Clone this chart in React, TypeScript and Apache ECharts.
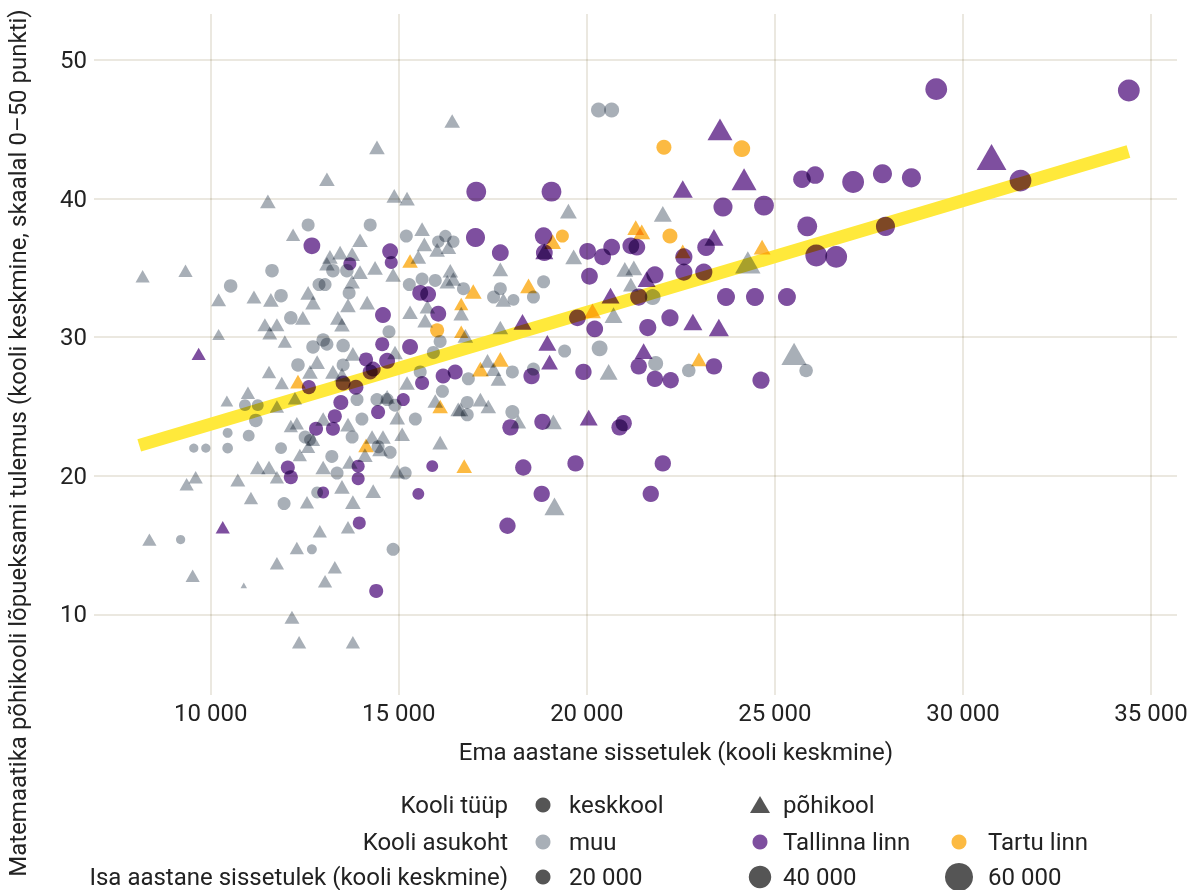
import React, { useEffect, useRef } from "react";
import * as echarts from "echarts";

// x: ema aastane sissetulek, y: matemaatika tulemus, f: isa aastane sissetulek (tuh)
const muuKeskkool: number[][] = [
  [20310, 46.4, 20], [20660, 46.4, 20], [11630, 34.8, 17], [10530, 33.7, 17], [11870, 33.0, 17],
  [12130, 31.4, 17], [12320, 28.0, 17], [10910, 25.1, 14], [11250, 25.1, 14], [11200, 24.0, 17],
  [10450, 23.1, 11], [11010, 22.9, 14], [11870, 22.0, 14], [9550, 22.0, 10], [9870, 22.0, 10],
  [10450, 22.0, 12], [11950, 18.0, 16], [9200, 15.4, 10], [12590, 38.1, 16], [14240, 38.1, 16],
  [15200, 37.3, 16], [16050, 36.9, 15], [16240, 37.3, 15], [16450, 36.9, 15], [13250, 34.8, 17],
  [13620, 34.8, 17], [12880, 33.8, 16], [13040, 33.8, 16], [13680, 33.2, 16], [15280, 33.8, 16],
  [15620, 34.2, 16], [15970, 34.1, 16], [14740, 30.4, 16], [12720, 29.3, 17], [12990, 29.8, 17],
  [13520, 29.4, 17], [13090, 29.5, 16], [13520, 28.0, 16], [13890, 25.5, 16], [14420, 25.5, 16],
  [14690, 25.5, 16], [14900, 25.1, 16], [15440, 24.1, 16], [14020, 24.1, 16], [13760, 22.8, 16],
  [13220, 21.4, 16], [13360, 20.2, 16], [12510, 22.8, 16], [12640, 22.6, 14], [14450, 22.1, 16],
  [14770, 21.7, 16], [15170, 20.2, 16], [16160, 26.1, 16], [15570, 27.5, 16], [15920, 28.9, 16],
  [16100, 29.7, 16], [12830, 18.8, 14], [12690, 14.7, 11], [14850, 14.7, 16], [16720, 33.5, 16],
  [17700, 33.5, 16], [17520, 32.9, 16], [18050, 32.7, 14], [18580, 32.9, 16], [18850, 34.0, 16],
  [19410, 29.0, 16], [20340, 29.2, 22], [16850, 27.0, 16], [18020, 27.5, 16], [18580, 27.7, 16],
  [18020, 24.6, 18], [16820, 25.3, 16], [16820, 24.4, 16], [21750, 32.9, 22], [21830, 28.1, 20],
  [22710, 27.6, 17], [25830, 27.6, 17],
];

const muuPohikool: number[][] = [
  [8190, 34.4, 14], [9330, 34.8, 14], [8370, 15.4, 14], [9520, 12.8, 14], [9360, 19.4, 14],
  [9600, 19.9, 14], [10720, 19.7, 15], [11070, 18.4, 14], [10880, 12.1, 6], [11250, 20.6, 16],
  [11550, 20.6, 16], [11760, 19.9, 14], [11760, 13.7, 14], [12290, 14.8, 14], [12160, 9.8, 15],
  [12350, 8.0, 14], [13780, 8.0, 14], [13040, 12.4, 14], [11520, 39.8, 16], [12190, 37.4, 14],
  [10210, 32.7, 15], [11150, 32.9, 15], [11600, 32.7, 16], [11440, 30.9, 15], [11760, 30.9, 15],
  [11570, 30.3, 15], [10210, 30.2, 12], [11970, 29.7, 14], [11550, 27.5, 14], [11890, 26.7, 14],
  [10430, 25.4, 12], [10990, 26.0, 14], [11760, 25.0, 14], [12240, 25.6, 14], [12130, 23.6, 14],
  [16420, 45.6, 16], [14420, 43.7, 16], [13090, 41.4, 16], [14880, 40.2, 16], [15220, 40.0, 16],
  [15620, 37.8, 16], [13970, 37.0, 16], [15680, 36.7, 16], [16020, 36.3, 16], [16320, 36.5, 16],
  [15520, 35.8, 16], [13170, 35.8, 16], [13440, 36.1, 16], [13760, 36.0, 16], [13090, 35.3, 16],
  [13970, 34.7, 16], [14370, 35.0, 16], [14850, 34.5, 16], [13760, 34.0, 16], [12590, 33.2, 16],
  [12720, 32.5, 16], [14160, 32.5, 16], [13650, 32.3, 16], [15760, 32.2, 16], [15300, 31.8, 16],
  [12450, 31.4, 16], [13380, 31.4, 16], [13490, 30.9, 16], [15700, 31.2, 16], [16290, 34.0, 16],
  [12640, 27.5, 16], [12830, 28.2, 16], [13250, 27.5, 16], [13490, 27.3, 16], [13780, 28.8, 16],
  [14900, 28.9, 16], [15220, 26.7, 16], [14690, 25.7, 16], [14960, 24.2, 16], [15090, 23.0, 16],
  [14580, 22.8, 16], [14290, 22.8, 16], [14500, 21.9, 16], [14100, 21.5, 16], [13650, 23.7, 16],
  [12990, 24.1, 16], [12290, 23.8, 14], [12720, 22.6, 14], [12590, 22.1, 14], [12370, 21.5, 14],
  [12990, 20.6, 16], [13700, 21.0, 16], [14960, 20.3, 16], [16100, 22.4, 16], [16580, 24.8, 16],
  [15970, 25.4, 16], [13780, 18.1, 16], [14320, 18.9, 16], [13490, 19.2, 16], [12560, 18.1, 14],
  [13650, 16.3, 14], [12900, 16.0, 14], [13300, 13.4, 14], [19510, 39.1, 18], [19650, 35.8, 18],
  [21010, 34.9, 18], [21250, 35.0, 18], [16370, 34.8, 16], [16450, 34.2, 16], [17700, 34.9, 16],
  [17780, 32.7, 16], [16660, 31.7, 16], [17700, 30.7, 16], [16770, 30.1, 16], [20710, 31.6, 20],
  [20580, 27.5, 20], [17360, 28.3, 16], [17520, 27.7, 16], [17650, 27.0, 16], [19110, 23.9, 18],
  [18180, 23.9, 16], [17170, 25.5, 16], [17380, 25.0, 16], [16640, 24.8, 16], [19140, 17.8, 24],
  [22020, 38.9, 20], [24280, 35.4, 36], [25510, 28.8, 36], [21170, 33.8, 16],
];

const tallinnKeskkool: number[][] = [
  [34410, 47.8, 38], [29290, 47.9, 38], [31530, 41.3, 38], [27080, 41.2, 38], [27860, 41.8, 30],
  [28630, 41.5, 30], [25720, 41.4, 26], [26070, 41.7, 26], [27940, 38.0, 30], [25860, 38.0, 32],
  [26100, 35.9, 38], [26630, 35.8, 38], [25320, 32.9, 27], [24470, 32.9, 27], [23700, 32.9, 27],
  [24710, 39.5, 32], [23620, 39.4, 30], [23170, 36.5, 26], [22580, 35.8, 25], [22580, 34.7, 25],
  [23110, 34.7, 25], [21810, 34.5, 25], [21380, 32.9, 25], [21170, 36.6, 24], [21330, 36.5, 24],
  [22210, 31.4, 25], [21620, 30.7, 25], [21380, 27.9, 23], [21810, 27.0, 23], [22230, 26.9, 23],
  [23380, 27.9, 23], [24630, 26.9, 25], [20980, 23.8, 23], [20870, 23.5, 23], [22020, 20.9, 23],
  [21700, 18.7, 23], [18310, 20.6, 23], [19700, 20.9, 23], [18800, 18.7, 23], [17890, 16.4, 23],
  [17040, 37.2, 30], [17700, 36.1, 24], [18850, 37.3, 26], [18870, 36.1, 24], [20020, 36.2, 24],
  [20420, 35.8, 24], [20660, 36.5, 24], [20070, 34.4, 24], [19750, 31.4, 24], [20210, 30.6, 24],
  [19910, 27.5, 23], [18530, 27.2, 23], [18820, 23.9, 23], [17970, 23.5, 23], [19060, 40.5, 32],
  [17060, 40.5, 32], [14400, 11.7, 18], [12050, 20.6, 18], [12130, 19.9, 18], [13920, 20.7, 16],
  [13920, 19.8, 16], [12990, 18.8, 14], [15890, 20.7, 14], [15520, 18.7, 14], [13950, 16.6, 16],
  [13460, 25.3, 20], [14450, 24.6, 18], [15120, 25.5, 16], [13300, 24.3, 18], [12800, 23.4, 18],
  [13250, 23.4, 18], [12610, 26.4, 18], [13520, 26.7, 20], [13860, 26.4, 20], [14240, 27.5, 20],
  [14320, 27.7, 20], [14130, 28.4, 18], [14690, 28.3, 22], [14560, 29.5, 18], [15300, 29.3, 22],
  [15620, 26.7, 18], [16180, 27.2, 20], [16500, 27.5, 20], [12690, 36.6, 24], [14770, 36.2, 22],
  [14800, 35.4, 16], [13700, 35.3, 16], [15570, 33.2, 22], [15780, 33.1, 22], [14580, 31.6, 22],
  [16050, 31.7, 22],
];

const tallinnPohikool: number[][] = [
  [30760, 43.0, 48], [23540, 45.0, 35], [24180, 41.4, 35], [22550, 40.7, 24], [23380, 37.2, 22],
  [21590, 34.2, 20], [22820, 31.1, 22], [23510, 30.7, 24], [21510, 29.0, 20], [20630, 33.0, 20],
  [18870, 36.2, 20], [18290, 31.1, 20], [18950, 29.6, 20], [19010, 28.2, 18], [20050, 24.2, 20],
  [9680, 28.8, 14], [10320, 16.3, 14],
];

const tartuKeskkool: number[][] = [
  [22050, 43.7, 20], [24120, 43.6, 24], [22210, 37.3, 20], [19350, 37.3, 16], [16020, 30.5, 18],
];

const tartuPohikool: number[][] = [
  [21300, 37.9, 18], [21460, 37.6, 18], [22550, 36.2, 16], [24660, 36.5, 18], [22980, 28.4, 16],
  [19090, 36.9, 18], [20150, 31.9, 18], [18450, 33.7, 18], [16980, 33.3, 18], [16660, 32.4, 14],
  [16660, 30.4, 14], [17700, 28.4, 18], [17170, 27.7, 18], [15300, 35.5, 16], [12320, 26.8, 16],
  [16100, 25.0, 16], [14130, 22.2, 16], [16740, 20.7, 16],
];

const trendLine: number[][] = [[8100, 22.2], [34400, 43.4]];

const xTicks = [10000, 15000, 20000, 25000, 30000, 35000];
const yTicks = [10, 20, 30, 40, 50];
const sizeLegend = [20, 40, 60];

const GREY = "#a8afb7";
const PURPLE = "#7e4f9f";
const ORANGE = "#fcba42";
const DARK = "#555555";
const TEXT = "#222222";
const GRID = "#ebe8e0";
const FONT = "Roboto";

const diam = (f: number) => Math.sqrt(Math.max(4, 14 * f - 55));
const fmt = (v: number) => String(Math.round(v)).replace(/\B(?=(\d{3})+(?!\d))/g, " ");

function scatter(name: string, data: number[][], color: string, tri: boolean) {
  return {
    name,
    type: "scatter",
    data,
    symbol: tri ? "triangle" : "circle",
    symbolSize: (v: number[]) => {
      const d = diam(v[2]);
      return tri ? [d * 1.2, d * 1.05] : d;
    },
    itemStyle: { color, opacity: 1 },
    silent: true,
    z: 3,
  };
}

export default function App() {
  const ref = useRef<HTMLDivElement>(null);
  useEffect(() => {
    if (!ref.current) return;
    const chart = echarts.init(ref.current, undefined, { renderer: "svg" });
    const t = (text: string, x: number, y: number, align: string) => ({
      type: "text",
      x,
      y,
      silent: true,
      style: {
        text,
        fill: TEXT,
        font: `24px ${FONT}`,
        align,
        verticalAlign: "middle",
        textAlign: align,
        textVerticalAlign: "middle",
      },
    });
    const circ = (cx: number, cy: number, r: number, fill: string) => ({
      type: "circle",
      silent: true,
      shape: { cx, cy, r },
      style: { fill },
    });
    const rows = [805, 842, 877];
    const col = [543, 760, 959];
    const colT = [569, 783, 988];
    chart.setOption({
      animation: false,
      grid: { left: 94, top: 14, width: 1083, height: 681, containLabel: false },
      xAxis: {
        type: "value",
        min: 6897,
        max: 35691,
        axisLine: { show: false },
        axisTick: { show: false, customValues: xTicks },
        axisLabel: {
          customValues: xTicks,
          formatter: fmt,
          fontSize: 24,
          fontFamily: FONT,
          color: TEXT,
          margin: 6,
        },
        splitLine: { show: true, lineStyle: { color: GRID, width: 2 } },
      },
      yAxis: {
        type: "value",
        min: 4.19,
        max: 53.32,
        axisLine: { show: false },
        axisTick: { show: false, customValues: yTicks },
        axisLabel: {
          customValues: yTicks,
          fontSize: 24,
          fontFamily: FONT,
          color: TEXT,
          margin: 7,
        },
        splitLine: { show: true, lineStyle: { color: GRID, width: 2 } },
      },
      series: [
        {
          type: "line",
          data: trendLine,
          symbol: "none",
          silent: true,
          lineStyle: { color: "#ffe93b", width: 13, cap: "butt" },
          z: 2,
        },
        scatter("muu keskkool", muuKeskkool, GREY, false),
        scatter("muu põhikool", muuPohikool, GREY, true),
        scatter("Tallinna linn keskkool", tallinnKeskkool, PURPLE, false),
        scatter("Tallinna linn põhikool", tallinnPohikool, PURPLE, true),
        scatter("Tartu linn keskkool", tartuKeskkool, ORANGE, false),
        scatter("Tartu linn põhikool", tartuPohikool, ORANGE, true),
      ],
      graphic: [
        t("Ema aastane sissetulek (kooli keskmine)", 676, 752, "center"),
        {
          type: "text",
          x: 18,
          y: 443,
          rotation: Math.PI / 2,
          silent: true,
          style: {
            text: "Matemaatika põhikooli lõpueksami tulemus (kooli keskmine, skaalal 0–50 punkti)",
            fill: TEXT,
            font: `24px ${FONT}`,
            align: "center",
            verticalAlign: "middle",
            textAlign: "center",
            textVerticalAlign: "middle",
          },
        },
        t("Kooli tüüp", 508, rows[0], "right"),
        t("Kooli asukoht", 508, rows[1], "right"),
        t("Isa aastane sissetulek (kooli keskmine)", 508, rows[2], "right"),
        circ(col[0], rows[0], 7.5, DARK),
        t("keskkool", colT[0], rows[0], "left"),
        {
          type: "polygon",
          silent: true,
          shape: {
            points: [
              [col[1], rows[0] - 9],
              [col[1] - 10, rows[0] + 8],
              [col[1] + 10, rows[0] + 8],
            ],
          },
          style: { fill: DARK },
        },
        t("põhikool", colT[1], rows[0], "left"),
        circ(col[0], rows[1], 7.5, GREY),
        t("muu", colT[0], rows[1], "left"),
        circ(col[1], rows[1], 7.5, PURPLE),
        t("Tallinna linn", colT[1], rows[1], "left"),
        circ(col[2], rows[1], 7.5, ORANGE),
        t("Tartu linn", colT[2], rows[1], "left"),
        ...sizeLegend.map((f, i) => circ(col[i], rows[2], diam(f) / 2, DARK)),
        ...sizeLegend.map((f, i) => t(fmt(f * 1000), colT[i], rows[2], "left")),
      ],
    });
    return () => chart.dispose();
  }, []);
  return (
    <>
      <style>{`#chart svg path, #chart svg circle, #chart svg polygon { mix-blend-mode: multiply; }`}</style>
      <div
        id="chart"
        ref={ref}
        style={{ position: "absolute", left: 0, top: 0, width: 1195, height: 890, background: "#fff" }}
      />
    </>
  );
}
